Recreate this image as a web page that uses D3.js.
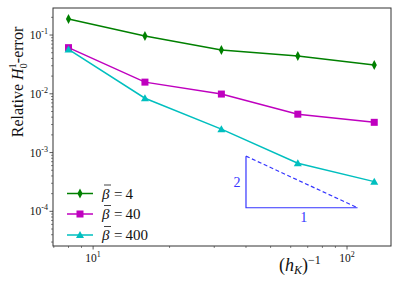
<!DOCTYPE html>
<html><head><meta charset="utf-8">
<script src="https://cdn.jsdelivr.net/npm/d3@7"></script>
<style>body{margin:0;background:#fff}svg{display:block}text{font-family:"Liberation Serif","DejaVu Serif",serif}</style>
</head><body>
<svg id="c" width="399" height="285"></svg>
<script>
const hInv = [8, 16, 32, 64, 128];
const beta4 = [0.187, 0.096, 0.0557, 0.044, 0.031];
const beta40 = [0.061, 0.0158, 0.0099, 0.0045, 0.00327];
const beta400 = [0.057, 0.0084, 0.0025, 0.00066, 0.00032];
const seriesNames = ["4", "40", "400"];
const xMajor = [10, 100];
const yMajor = [1e-1, 1e-2, 1e-3, 1e-4];
const triX = [40, 110];
const triYBottom = 1.15e-4;
const slopeLabels = ["2", "1"];

const svg = d3.select("#c");
const L = 53, R = 391, T = 8, B = 246;
const x = d3.scaleLog().domain([6.95, 149]).range([L, R]);
const y = d3.scaleLog().domain([10 ** -0.54, 10 ** -4.59]).range([T, B]);

// axes frame
svg.append("rect").attr("x", L).attr("y", T).attr("width", R - L).attr("height", B - T)
  .attr("fill", "none").attr("stroke", "#333").attr("stroke-width", 1);

// x ticks
const xMinor = [];
for (let d = 1; d <= 100; d *= 10) for (let k = 1; k <= 9; k++) { const v = k * d; if (v >= 6.95 && v <= 149) xMinor.push(v); }
xMinor.forEach(v => {
  const major = xMajor.includes(v);
  svg.append("line").attr("x1", x(v)).attr("x2", x(v)).attr("y1", B).attr("y2", B + (major ? 3.5 : 2))
    .attr("stroke", "#333").attr("stroke-width", major ? 0.8 : 0.6);
});
xMajor.forEach(v => {
  const t = svg.append("text").attr("x", x(v)).attr("y", 262).attr("text-anchor", "middle").attr("font-size", 11.5).attr("fill", "#111");
  t.append("tspan").text("10");
  t.append("tspan").attr("dy", -5).attr("font-size", 8).text(Math.round(Math.log10(v)));
});

// y ticks
for (let e = -5; e <= 0; e++) for (let k = 1; k <= 9; k++) {
  const v = k * 10 ** e;
  if (v < 10 ** -4.59 || v > 10 ** -0.54) continue;
  const major = k === 1;
  svg.append("line").attr("x1", L).attr("x2", L - (major ? 3.5 : 2)).attr("y1", y(v)).attr("y2", y(v))
    .attr("stroke", "#333").attr("stroke-width", major ? 0.8 : 0.6);
}
yMajor.forEach(v => {
  const t = svg.append("text").attr("x", 48).attr("y", y(v) + 4).attr("text-anchor", "end").attr("font-size", 11.5).attr("fill", "#111");
  t.append("tspan").text("10");
  t.append("tspan").attr("dy", -5).attr("font-size", 8).text(Math.round(Math.log10(v)));
});

// labels
const yl = svg.append("text").attr("transform", "translate(23,82) rotate(-90)").attr("text-anchor", "middle").attr("font-size", 16).attr("fill", "#111");
yl.append("tspan").text("Relative ");
yl.append("tspan").attr("font-style", "italic").text("H");
yl.append("tspan").attr("font-size", 10.5).attr("dy", 4).text("0");
yl.append("tspan").attr("font-size", 10.5).attr("dx", -5.3).attr("dy", -11).text("1");
yl.append("tspan").attr("dy", 7).text("-error");

const xl = svg.append("text").attr("x", 279).attr("y", 271).attr("font-size", 18).attr("fill", "#111");
xl.append("tspan").text("(");
xl.append("tspan").attr("font-style", "italic").text("h");
xl.append("tspan").attr("font-style", "italic").attr("font-size", 12).attr("dy", 3).text("K");
xl.append("tspan").attr("dy", -3).text(")");
xl.append("tspan").attr("font-size", 12).attr("dy", -7).text("−1");

// series
const colors = ["#008000", "#bf00bf", "#00bfbf"];
const data = [beta4, beta40, beta400];
const line = d3.line().x(d => x(d[0])).y(d => y(d[1]));
function marker(g, i, cx, cy) {
  if (i === 0) g.append("path").attr("d", `M${cx},${cy - 5}L${cx + 2.6},${cy}L${cx},${cy + 5}L${cx - 2.6},${cy}Z`).attr("fill", colors[0]);
  else if (i === 1) g.append("rect").attr("x", cx - 3.5).attr("y", cy - 3.5).attr("width", 7).attr("height", 7).attr("fill", colors[1]);
  else g.append("path").attr("d", `M${cx},${cy - 4}L${cx + 4},${cy + 3}L${cx - 4},${cy + 3}Z`).attr("fill", colors[2]);
}
data.forEach((vals, i) => {
  const pts = hInv.map((h, j) => [h, vals[j]]);
  svg.append("path").attr("d", line(pts)).attr("fill", "none").attr("stroke", colors[i]).attr("stroke-width", 1.5);
  const g = svg.append("g");
  pts.forEach(p => marker(g, i, x(p[0]), y(p[1])));
});

// slope triangle
const triYTop = triYBottom * (triX[1] / triX[0]) ** 2;
const blue = "#3535ff";
svg.append("path").attr("d", `M${x(triX[0])},${y(triYTop)}L${x(triX[0])},${y(triYBottom)}L${x(triX[1])},${y(triYBottom)}`)
  .attr("fill", "none").attr("stroke", blue).attr("stroke-width", 1.2);
svg.append("line").attr("x1", x(triX[0])).attr("y1", y(triYTop)).attr("x2", x(triX[1])).attr("y2", y(triYBottom))
  .attr("stroke", blue).attr("stroke-width", 1.2).attr("stroke-dasharray", "4,2.5");
svg.append("text").attr("x", x(triX[0]) - 9).attr("y", (y(triYTop) + y(triYBottom)) / 2 + 5).attr("text-anchor", "middle").attr("font-size", 14).attr("fill", blue).text(slopeLabels[0]);
svg.append("text").attr("x", x(Math.sqrt(triX[0] * triX[1])) + 2).attr("y", y(triYBottom) + 14).attr("text-anchor", "middle").attr("font-size", 14).attr("fill", blue).text(slopeLabels[1]);

// legend
const legY = [193.5, 214, 235];
seriesNames.forEach((n, i) => {
  svg.append("line").attr("x1", 67).attr("x2", 93).attr("y1", legY[i]).attr("y2", legY[i]).attr("stroke", colors[i]).attr("stroke-width", 1.5);
  marker(svg, i, 80, legY[i]);
  svg.append("text").attr("x", 102).attr("y", legY[i] + 5).attr("font-size", 15).attr("font-style", "italic").attr("fill", "#111").text("β");
  svg.append("line").attr("x1", 104).attr("x2", 111).attr("y1", legY[i] - 8.5).attr("y2", legY[i] - 8.5).attr("stroke", "#111").attr("stroke-width", 0.8);
  svg.append("text").attr("x", 114).attr("y", legY[i] + 5).attr("font-size", 15).attr("fill", "#111").text("=\u2009" + n);
});
</script>
</body></html>
